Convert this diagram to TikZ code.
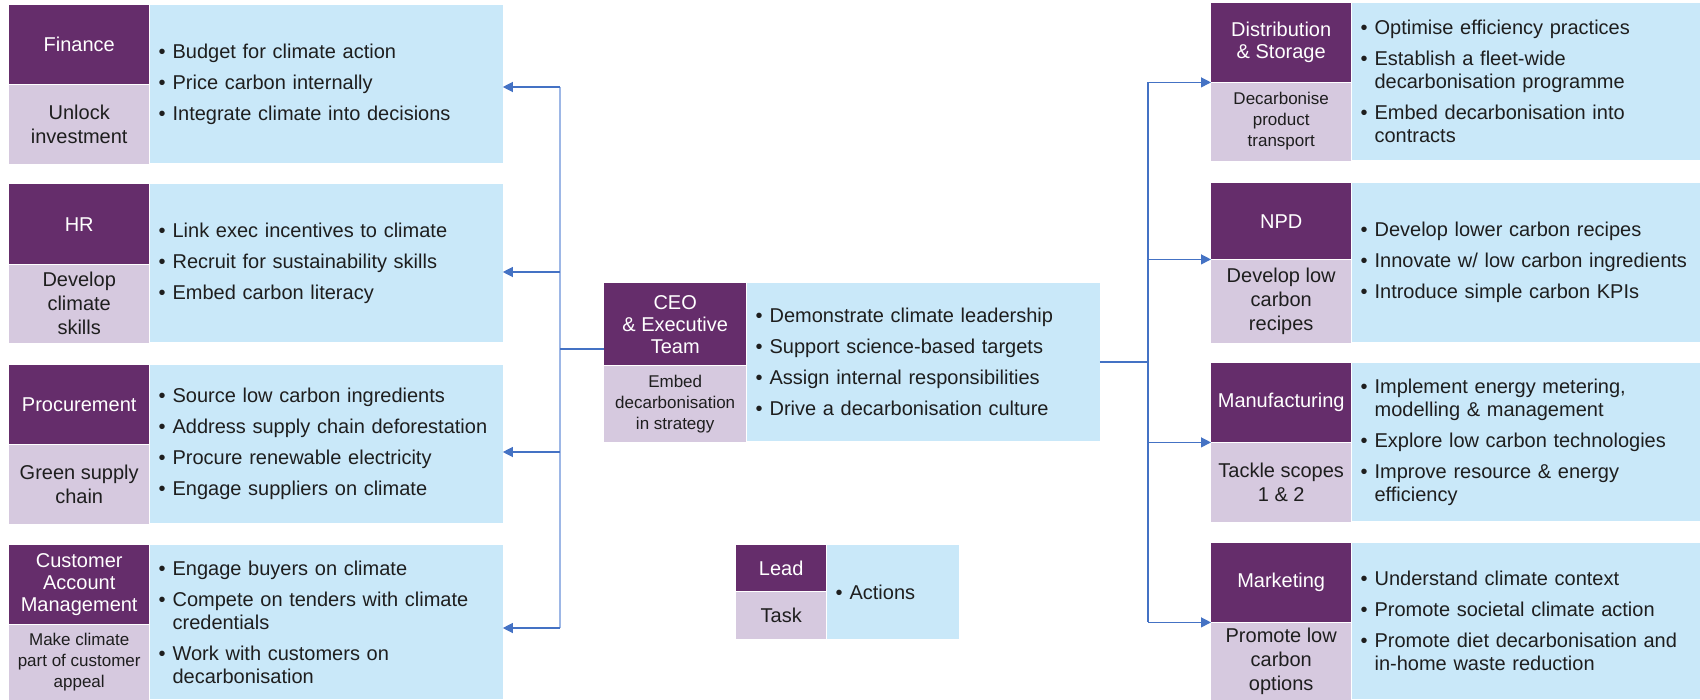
\documentclass[tikz,border=0pt]{standalone}
\usepackage{fontspec}
\setmainfont{Liberation Sans}
\usepackage{tikz}
\usetikzlibrary{positioning,arrows.meta}

\definecolor{leadpurple}{RGB}{101,45,107}
\definecolor{tasklilac}{RGB}{214,201,223}
\definecolor{actblue}{RGB}{201,232,249}
\definecolor{linkblue}{RGB}{68,114,196}
\definecolor{buslight}{RGB}{157,183,230}
\definecolor{txt}{RGB}{30,30,30}

\newcommand{\itm}{\makebox[14pt][l]{\textbullet}}
\newcommand{\cnt}{\hspace*{14pt}}

\tikzset{
  lead/.style={fill=leadpurple, text=white, anchor=north west, minimum width=140pt,
    inner sep=0pt, align=center, font=\fontsize{20}{22}\selectfont},
  task/.style={fill=tasklilac, text=txt, minimum width=140pt, inner sep=0pt,
    align=center, font=\fontsize{20}{24}\selectfont},
  tasksmall/.style={task, font=\fontsize{17}{21}\selectfont},
  acts/.style={fill=actblue, text=txt, anchor=north west, text width=335pt,
    inner xsep=9pt, inner ysep=0pt, align=left, font=\fontsize{20}{23}\selectfont},
  link/.style={draw=linkblue, line width=1.2pt},
  bus/.style={draw=buslight, line width=1.4pt},
  arrow/.style={link, -{Triangle[length=10pt,width=10pt]}}
}

\begin{document}
\begin{tikzpicture}[x=1pt,y=-1pt]
\useasboundingbox (0,0) rectangle (1700,699);

% left column
\node[lead, minimum height=79pt] (fin) at (9,5) {Finance};
\node[task, below=0pt of fin, minimum height=79pt] (fin-t) {Unlock\\investment};
\node[acts, minimum height=158pt] (fin-a) at (fin.north east)
  {\itm Budget for climate action\\[8pt]
   \itm Price carbon internally\\[8pt]
   \itm Integrate climate into decisions};

\node[lead, minimum height=80pt] (hr) at (9,184) {HR};
\node[task, below=0pt of hr, minimum height=78pt] (hr-t) {Develop\\climate\\skills};
\node[acts, minimum height=158pt] (hr-a) at (hr.north east)
  {\itm Link exec incentives to climate\\[8pt]
   \itm Recruit for sustainability skills\\[8pt]
   \itm Embed carbon literacy};

\node[lead, minimum height=79pt] (proc) at (9,365) {Procurement};
\node[task, below=0pt of proc, minimum height=79pt] (proc-t) {Green supply\\chain};
\node[acts, minimum height=158pt] (proc-a) at (proc.north east)
  {\itm Source low carbon ingredients\\[8pt]
   \itm Address supply chain deforestation\\[8pt]
   \itm Procure renewable electricity\\[8pt]
   \itm Engage suppliers on climate};

\node[lead, minimum height=79pt] (cam) at (9,545) {Customer\\Account\\Management};
\node[tasksmall, below=0pt of cam, minimum height=75pt] (cam-t) {Make climate\\part of customer\\appeal};
\node[acts, minimum height=154pt] (cam-a) at (cam.north east)
  {\itm Engage buyers on climate\\[8pt]
   \itm Compete on tenders with climate\\
   \cnt credentials\\[8pt]
   \itm Work with customers on\\
   \cnt decarbonisation};

% centre
\node[lead, minimum width=142pt, minimum height=82pt] (ceo) at (604,283) {CEO\\\& Executive\\Team};
\node[tasksmall, below=0pt of ceo, minimum width=142pt, minimum height=76pt] (ceo-t) {Embed\\decarbonisation\\in strategy};
\node[acts, minimum height=158pt] (ceo-a) at (ceo.north east)
  {\itm Demonstrate climate leadership\\[8pt]
   \itm Support science-based targets\\[8pt]
   \itm Assign internal responsibilities\\[8pt]
   \itm Drive a decarbonisation culture};

% right column
\node[lead, minimum height=79pt] (dist) at (1211,3) {Distribution\\\& Storage};
\node[tasksmall, below=0pt of dist, minimum height=78pt] (dist-t) {Decarbonise\\product\\transport};
\node[acts, text width=331pt, minimum height=157pt] (dist-a) at (dist.north east)
  {\itm Optimise efficiency practices\\[8pt]
   \itm Establish a fleet-wide\\
   \cnt decarbonisation programme\\[8pt]
   \itm Embed decarbonisation into\\
   \cnt contracts};

\node[lead, minimum height=76pt] (npd) at (1211,183) {NPD};
\node[task, below=0pt of npd, minimum height=83pt] (npd-t) {Develop low\\carbon\\recipes};
\node[acts, text width=331pt, minimum height=159pt] (npd-a) at (npd.north east)
  {\itm Develop lower carbon recipes\\[8pt]
   \itm Innovate w/ low carbon ingredients\\[8pt]
   \itm Introduce simple carbon KPIs};

\node[lead, minimum height=79pt] (mfg) at (1211,363) {Manufacturing};
\node[task, below=0pt of mfg, minimum height=79pt] (mfg-t) {Tackle scopes\\1 \& 2};
\node[acts, text width=331pt, minimum height=158pt] (mfg-a) at (mfg.north east)
  {\itm Implement energy metering,\\
   \cnt modelling \& management\\[8pt]
   \itm Explore low carbon technologies\\[8pt]
   \itm Improve resource \& energy\\
   \cnt efficiency};

\node[lead, minimum height=79pt] (mkt) at (1211,543) {Marketing};
\node[task, below=0pt of mkt, minimum height=77pt] (mkt-t) {Promote low\\carbon\\options};
\node[acts, text width=331pt, minimum height=156pt] (mkt-a) at (mkt.north east)
  {\itm Understand climate context\\[8pt]
   \itm Promote societal climate action\\[8pt]
   \itm Promote diet decarbonisation and\\
   \cnt in-home waste reduction};

% legend
\node[lead, minimum width=90pt, minimum height=46pt] (key) at (736,545) {Lead};
\node[task, below=0pt of key, minimum width=90pt, minimum height=47pt] (key-t) {Task};
\node[acts, text width=114pt, minimum height=94pt] (key-a) at (key.north east) {\itm Actions};

% connectors to the left
\coordinate (lbus) at (560,349);
\coordinate (lfin) at (560,87);
\coordinate (lhr) at (560,272);
\coordinate (lproc) at (560,452);
\coordinate (lcam) at (560,628);
\draw[bus] (lfin) -- (lcam);
\draw[link] (lbus) -- (lbus -| ceo.west);
\foreach \d/\c in {fin/lfin, hr/lhr, proc/lproc, cam/lcam}
  \draw[arrow] (\c) -- (\c -| \d-a.east);

% connectors to the right
\coordinate (rbus) at (1148,362);
\draw[link] (ceo-a.east |- rbus) -- (rbus);
\draw[link] (rbus |- dist.south west) -- (rbus |- mkt.south west);
\foreach \d in {dist,npd,mfg,mkt}
  \draw[arrow] (rbus |- \d.south west) -- (\d.south west);
\end{tikzpicture}
\end{document}
